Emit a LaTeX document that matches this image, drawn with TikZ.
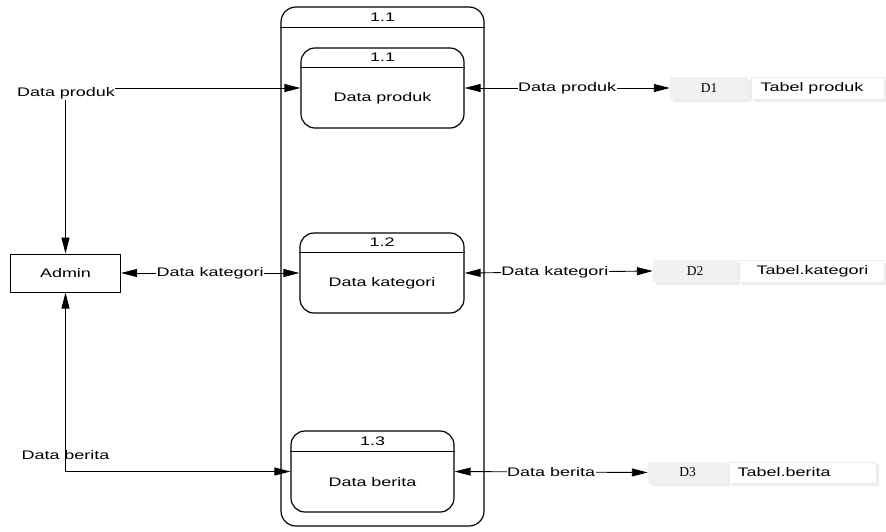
\documentclass[tikz,border=0pt]{standalone}
\usepackage{fontspec}
\setmainfont{Liberation Sans}[FakeStretch=1.45]
\newfontfamily\storefont{Liberation Serif}
\usetikzlibrary{arrows.meta,calc}

\tikzset{
  every node/.style={font=\fontsize{12.4pt}{14pt}\selectfont},
  proc/.style={draw, line width=1.2pt, rounded corners=14pt, minimum width=163pt,
               minimum height=80pt, inner sep=0pt},
  outerproc/.style={draw, line width=1.2pt, rounded corners=15pt, minimum width=203pt,
               minimum height=519pt, inner sep=0pt},
  entity/.style={draw, line width=1pt, minimum width=110pt, minimum height=38pt, inner sep=0pt},
  flow/.style={line width=0.9pt,
               {Triangle[length=16pt,width=8pt]}-{Triangle[length=16pt,width=8pt]}},
  lbl/.style={fill=white, inner xsep=0.5pt, inner ysep=1pt},
  storeid/.style={fill=gray!11, minimum height=22pt, inner sep=0pt,
               font=\storefont\fontsize{13.5pt}{15pt}\selectfont},
  storetab/.style={fill=white, draw=gray!15, line width=0.8pt, minimum height=22pt, inner sep=0pt},
  storeshadow/.style={fill=gray!14},
}

\begin{document}
\begin{tikzpicture}[x=1pt,y=-1pt]
\useasboundingbox (0,0) rectangle (886,531);

% main process with its header
\node[outerproc] (main) at (382.5,266.5) {};
\draw[line width=1pt] ($(main.north west)+(0,21)$) -- ($(main.north east)+(0,21)$);
\node (mainid) at ($(main.north)+(0,10.5)$) {1.1};

% sub-processes
\node[proc] (p1) at (382.5,88) {};
\draw[line width=1pt] ($(p1.north west)+(0,20)$) -- ($(p1.north east)+(0,20)$);
\node (p1id) at ($(p1.north)+(0,10)$) {1.1};
\node (p1txt) at ($(p1.center)+(0,10)$) {Data produk};

\node[proc, minimum width=164pt] (p2) at (382,273) {};
\draw[line width=1pt] ($(p2.north west)+(0,20)$) -- ($(p2.north east)+(0,20)$);
\node (p2id) at ($(p2.north)+(0,10)$) {1.2};
\node (p2txt) at ($(p2.center)+(0,10)$) {Data kategori};

\node[proc, minimum height=81pt] (p3) at (372.5,471.5) {};
\draw[line width=1pt] ($(p3.north west)+(0,21)$) -- ($(p3.north east)+(0,21)$);
\node (p3id) at ($(p3.north)+(0,10.5)$) {1.3};
\node (p3txt) at ($(p3.center)+(0,10.5)$) {Data berita};

% external entity
\node[entity] (admin) at (65.5,273) {Admin};

% data stores
\fill[storeshadow] (673,80) rectangle (751,102);
\node[storeid, minimum width=78pt] (d1) at (709,88) {D1};
\fill[storeshadow] (754,80) rectangle (887,102);
\node[storetab, minimum width=133pt] (t1) at (817.5,88) {};
\node[anchor=west] (t1txt) at (757,88) {Tabel produk};

\fill[storeshadow] (656,263) rectangle (740,285);
\node[storeid, minimum width=84pt] (d2) at (695,271) {D2};
\fill[storeshadow] (742,263) rectangle (887,285);
\node[storetab, minimum width=145pt] (t2) at (811.5,271) {};
\node[anchor=west] (t2txt) at (753,271) {Tabel.kategori};

\fill[storeshadow] (651,465) rectangle (730,486);
\node[storeid, minimum width=79pt, minimum height=21pt] (d3) at (687.5,472.5) {D3};
\fill[storeshadow] (732,465) rectangle (879,486);
\node[storetab, minimum width=147pt, minimum height=21pt] (t3) at (802.5,472.5) {};
\node[anchor=west] (t3txt) at (734,472.5) {Tabel.berita};

% flows between Admin and the processes
\draw[flow] (admin.north) |- (p1.west);
\node[lbl] (f1) at (66,93) {Data produk};

\draw[flow] (admin.east) -- (p2.west) node[lbl, midway] (f2) {Data kategori};

\draw[flow] (admin.south) |- (p3.west);
\node (f3) at (65.5,455) {Data berita};

% flows between the processes and the data stores
\draw[flow] (p1.east) -- (d1.west) node[lbl, midway] (f4) {Data produk};
\draw[flow] (p2.east) -- (d2.west) node[lbl, pos=0.48] (f5) {Data kategori};
\draw[flow] (p3.east) -- (d3.west) node[lbl, midway] (f6) {Data berita};
\end{tikzpicture}
\end{document}
